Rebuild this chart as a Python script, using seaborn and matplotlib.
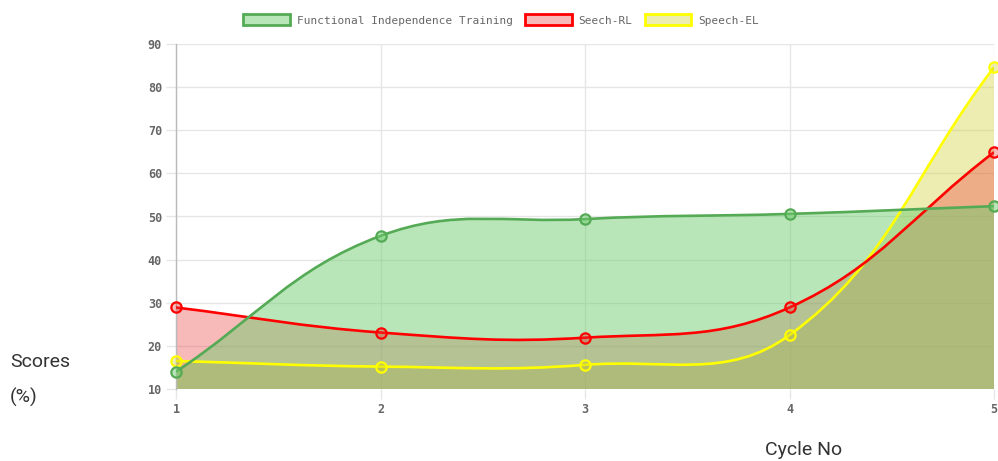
import numpy as np
import matplotlib
matplotlib.use("Agg")
import matplotlib.pyplot as plt
from matplotlib.path import Path
from matplotlib.patches import PathPatch, Patch
import seaborn as sns

# valores
ciclos = [1, 2, 3, 4, 5]
fit = [14.0, 45.5, 49.4, 50.6, 52.4]
speech_rl = [28.9, 23.1, 21.9, 28.9, 64.9]
speech_el = [16.5, 15.2, 15.6, 22.5, 84.6]

series = ["Functional Independence Training", "Seech-RL", "Speech-EL"]
lineas = ["#55aa55", "#ff0000", "#ffff00"]
rellenos = [(109 / 255, 204 / 255, 109 / 255, 0.48),
            (235 / 255, 55 / 255, 55 / 255, 0.35),
            (206 / 255, 206 / 255, 35 / 255, 0.35)]

TENSION = 0.4
Y_MIN, Y_MAX = 10, 90

sns.set_theme(style="whitegrid")
plt.rcParams["font.family"] = ["DejaVu Sans Mono"]

fig = plt.figure(figsize=(9.98, 4.61), dpi=100)
ax = fig.add_axes([176 / 998, 1 - 389 / 461, (994 - 176) / 998, (389 - 44) / 461])
ax.set_xlim(1, 5)
ax.set_ylim(Y_MIN, Y_MAX)
ax.set_facecolor("white")


def curva_chartjs(xs, ys):
    # curva bezier como la de Chart.js (tension 0.4), calculada en pixeles
    pts = ax.transData.transform(np.column_stack([xs, ys]))
    n = len(pts)
    ctrl_prev, ctrl_next = [], []
    for i in range(n):
        prev = pts[i - 1] if i > 0 else pts[i]
        cur = pts[i]
        nxt = pts[i + 1] if i < n - 1 else pts[i]
        d01 = np.hypot(*(cur - prev))
        d12 = np.hypot(*(nxt - cur))
        tot = d01 + d12
        s01 = d01 / tot if tot else 0
        s12 = d12 / tot if tot else 0
        ctrl_prev.append(cur - TENSION * s01 * (nxt - prev))
        ctrl_next.append(cur + TENSION * s12 * (nxt - prev))
    inv = ax.transData.inverted()
    verts = [pts[0]]
    codes = [Path.MOVETO]
    for i in range(n - 1):
        verts += [ctrl_next[i], ctrl_prev[i + 1], pts[i + 1]]
        codes += [Path.CURVE4] * 3
    return inv.transform(np.array(verts)), codes


datos = [fit, speech_rl, speech_el]
# Chart.js dibuja el primer dataset arriba
for k in [2, 1, 0]:
    verts, codes = curva_chartjs(ciclos, datos[k])
    v_fill = np.vstack([verts, [[ciclos[-1], Y_MIN], [ciclos[0], Y_MIN], verts[0]]])
    c_fill = codes + [Path.LINETO, Path.LINETO, Path.CLOSEPOLY]
    ax.add_patch(PathPatch(Path(v_fill, c_fill), facecolor=rellenos[k], edgecolor="none", zorder=2))
    ax.add_patch(PathPatch(Path(verts, codes), facecolor="none", edgecolor=lineas[k],
                           linewidth=1.9, zorder=3))
    sns.scatterplot(x=ciclos, y=datos[k], ax=ax, s=55, marker="o",
                    facecolor=[rellenos[k]], edgecolor=lineas[k], linewidth=1.6,
                    zorder=4, clip_on=False, legend=False)

ax.set_xticks(ciclos)
ax.set_yticks(range(10, 91, 10))
ax.grid(True, color="#e6e6e6", linewidth=1)
ax.tick_params(axis="both", length=7, color="#e6e6e6", width=1, labelsize=8.5,
               labelcolor="#666666", pad=3, left=True, bottom=True)
for lab in ax.get_xticklabels() + ax.get_yticklabels():
    lab.set_fontweight("bold")
for side in ["top", "right", "bottom"]:
    ax.spines[side].set_visible(False)
ax.spines["left"].set_color("#bbbbbb")
ax.spines["left"].set_linewidth(1)
ax.set_xlabel("")
ax.set_ylabel("")

handles = [Patch(facecolor=rellenos[k], edgecolor=lineas[k], linewidth=2, label=series[k])
           for k in range(3)]
fig.legend(handles=handles, loc="center", bbox_to_anchor=(501 / 998, 1 - 20 / 461),
           ncol=3, frameon=False, fontsize=8, labelcolor="#666666",
           handlelength=4.2, handleheight=1.1, handletextpad=0.6, columnspacing=1.1)

fig.text(10 / 998, 1 - 362 / 461, "Scores", family="Roboto",
         fontsize=14, color="#333333", va="center", ha="left")
fig.text(10 / 998, 1 - 397 / 461, "(%)", family="Roboto",
         fontsize=14, color="#333333", va="center", ha="left")
fig.text(804 / 998, 1 - 450 / 461, "Cycle No", family="Roboto",
         fontsize=14, color="#333333", va="center", ha="center")

fig.savefig("out.png", dpi=100)
